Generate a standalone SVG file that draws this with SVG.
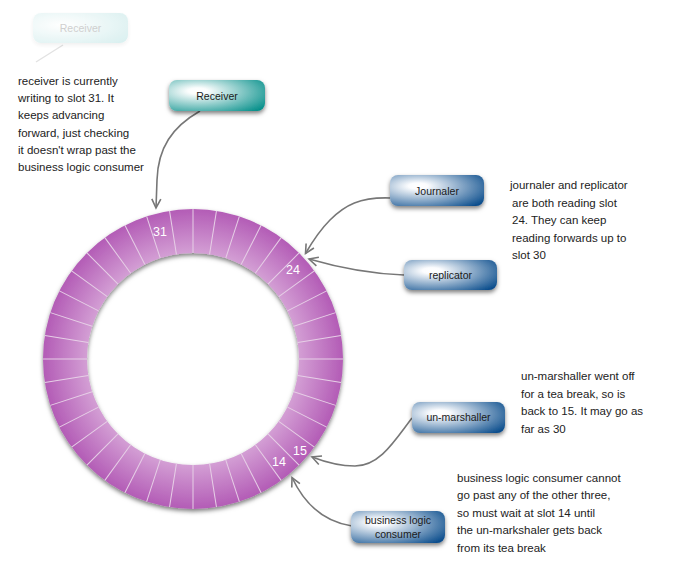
<svg xmlns="http://www.w3.org/2000/svg" xmlns:xlink="http://www.w3.org/1999/xlink" width="695" height="564" viewBox="0 0 695 564">
<defs>
<style>
.note{font-family:"Liberation Sans",Arial,sans-serif;font-size:11.5px;fill:#222}
.lbl{font-family:"Liberation Sans",Arial,sans-serif;font-size:10.5px;fill:#1a1a1a;text-anchor:middle}
.slot{font-family:"Liberation Sans",Arial,sans-serif;font-size:12.5px;fill:#fff;text-anchor:middle}
.conn{fill:none;stroke:#777;stroke-width:1.6}
.tick{stroke:#e6cfe6;stroke-width:1}
</style>
<radialGradient id="gTeal" cx="0.3" cy="0.4" fx="0.3" fy="0.35" r="0.85">
<stop offset="0" stop-color="#ffffff"/>
<stop offset="0.12" stop-color="#fbfdfd"/>
<stop offset="1" stop-color="#058f8a"/>
</radialGradient>
<radialGradient id="gBlue" cx="0.3" cy="0.4" fx="0.3" fy="0.35" r="0.85">
<stop offset="0" stop-color="#ffffff"/>
<stop offset="0.12" stop-color="#fbfcfe"/>
<stop offset="1" stop-color="#084b8b"/>
</radialGradient>
<radialGradient id="gFaded" cx="0.3" cy="0.4" r="0.85">
<stop offset="0" stop-color="#ffffff"/>
<stop offset="1" stop-color="#d2eded"/>
</radialGradient>
<radialGradient id="gRing" gradientUnits="userSpaceOnUse" cx="193" cy="359" r="150">
<stop offset="0.7" stop-color="#d4a0d5"/>
<stop offset="1" stop-color="#b35cb6"/>
</radialGradient>
<filter id="shadow" x="-20%" y="-20%" width="140%" height="150%">
<feDropShadow dx="0" dy="2.5" stdDeviation="2" flood-color="#000" flood-opacity="0.5"/>
</filter>
<filter id="shadowFaint" x="-20%" y="-20%" width="140%" height="150%">
<feDropShadow dx="0" dy="2" stdDeviation="2" flood-color="#000" flood-opacity="0.08"/>
</filter>
<marker id="arrow" markerUnits="userSpaceOnUse" markerWidth="14" markerHeight="14" viewBox="-10 -7 12 14" refX="0" refY="0" orient="auto">
<path d="M-9,-4.5 L0,0 L-9,4.5" fill="none" stroke="#777" stroke-width="1.6"/>
</marker>
<line id="tk" class="tick" x1="193" y1="209" x2="193" y2="253"/>
</defs>

<g id="ring">
<path d="M43,359 A150,150 0 1,0 343,359 A150,150 0 1,0 43,359 Z M87,359 A106,106 0 1,1 299,359 A106,106 0 1,1 87,359 Z" fill="url(#gRing)" fill-rule="evenodd" filter="url(#shadow)"/>
<g id="ticks">
<use xlink:href="#tk" transform="rotate(0 193 359)"/>
<use xlink:href="#tk" transform="rotate(9 193 359)"/>
<use xlink:href="#tk" transform="rotate(18 193 359)"/>
<use xlink:href="#tk" transform="rotate(27 193 359)"/>
<use xlink:href="#tk" transform="rotate(36 193 359)"/>
<use xlink:href="#tk" transform="rotate(45 193 359)"/>
<use xlink:href="#tk" transform="rotate(54 193 359)"/>
<use xlink:href="#tk" transform="rotate(63 193 359)"/>
<use xlink:href="#tk" transform="rotate(72 193 359)"/>
<use xlink:href="#tk" transform="rotate(81 193 359)"/>
<use xlink:href="#tk" transform="rotate(90 193 359)"/>
<use xlink:href="#tk" transform="rotate(99 193 359)"/>
<use xlink:href="#tk" transform="rotate(108 193 359)"/>
<use xlink:href="#tk" transform="rotate(117 193 359)"/>
<use xlink:href="#tk" transform="rotate(126 193 359)"/>
<use xlink:href="#tk" transform="rotate(135 193 359)"/>
<use xlink:href="#tk" transform="rotate(144 193 359)"/>
<use xlink:href="#tk" transform="rotate(153 193 359)"/>
<use xlink:href="#tk" transform="rotate(162 193 359)"/>
<use xlink:href="#tk" transform="rotate(171 193 359)"/>
<use xlink:href="#tk" transform="rotate(180 193 359)"/>
<use xlink:href="#tk" transform="rotate(189 193 359)"/>
<use xlink:href="#tk" transform="rotate(198 193 359)"/>
<use xlink:href="#tk" transform="rotate(207 193 359)"/>
<use xlink:href="#tk" transform="rotate(216 193 359)"/>
<use xlink:href="#tk" transform="rotate(225 193 359)"/>
<use xlink:href="#tk" transform="rotate(234 193 359)"/>
<use xlink:href="#tk" transform="rotate(243 193 359)"/>
<use xlink:href="#tk" transform="rotate(252 193 359)"/>
<use xlink:href="#tk" transform="rotate(261 193 359)"/>
<use xlink:href="#tk" transform="rotate(270 193 359)"/>
<use xlink:href="#tk" transform="rotate(279 193 359)"/>
<use xlink:href="#tk" transform="rotate(288 193 359)"/>
<use xlink:href="#tk" transform="rotate(297 193 359)"/>
<use xlink:href="#tk" transform="rotate(306 193 359)"/>
<use xlink:href="#tk" transform="rotate(315 193 359)"/>
<use xlink:href="#tk" transform="rotate(324 193 359)"/>
<use xlink:href="#tk" transform="rotate(333 193 359)"/>
<use xlink:href="#tk" transform="rotate(342 193 359)"/>
<use xlink:href="#tk" transform="rotate(351 193 359)"/>
</g>
<text class="slot" x="160" y="235.5">31</text>
<text class="slot" x="293" y="273.5">24</text>
<text class="slot" x="300" y="454.5">15</text>
<text class="slot" x="279" y="465.5">14</text>
</g>

<g id="connectors">
<path d="M63,45 L36,62" fill="none" stroke="#e2e2e2" stroke-width="1.4"/>
<path class="conn" d="M200,111 C172,127 158,148 157,180 L156,208" marker-end="url(#arrow)"/>
<path class="conn" d="M390,198 C360,197 345,205 330,220 C318,232 311,244 305.5,253.5" marker-end="url(#arrow)"/>
<path class="conn" d="M404,275 C375,274 340,268 309,259" marker-end="url(#arrow)"/>
<path class="conn" d="M412,418 C395,440 380,466 355,466 C340,466 325,462 312,457" marker-end="url(#arrow)"/>
<path class="conn" d="M352,526 C325,522 305,505 292,477.5" marker-end="url(#arrow)"/>
</g>

<g id="receiver-faded">
<rect x="33" y="13" width="95" height="30" rx="8" fill="url(#gFaded)" filter="url(#shadowFaint)" opacity="0.8"/>
<text class="lbl" x="80.5" y="32" style="fill:#cfcfcf">Receiver</text>
</g>

<g id="receiver">
<rect x="169" y="80" width="96" height="31" rx="8" fill="url(#gTeal)" filter="url(#shadow)"/>
<text class="lbl" x="217" y="99.5">Receiver</text>
</g>

<g id="journaler">
<rect x="390" y="175" width="94" height="31" rx="8" fill="url(#gBlue)" filter="url(#shadow)"/>
<text class="lbl" x="437" y="194.5">Journaler</text>
</g>

<g id="replicator">
<rect x="404" y="260" width="93" height="30" rx="8" fill="url(#gBlue)" filter="url(#shadow)"/>
<text class="lbl" x="450.5" y="279">replicator</text>
</g>

<g id="un-marshaller">
<rect x="412" y="402" width="93" height="31" rx="8" fill="url(#gBlue)" filter="url(#shadow)"/>
<text class="lbl" x="458.5" y="421">un-marshaller</text>
</g>

<g id="business-logic-consumer">
<rect x="351" y="511" width="94" height="32" rx="8" fill="url(#gBlue)" filter="url(#shadow)"/>
<text class="lbl" x="398" y="524">business logic</text>
<text class="lbl" x="398" y="537.5">consumer</text>
</g>

<g id="notes">
<text class="note" x="18" y="85">receiver is currently</text>
<text class="note" x="18" y="102">writing to slot 31. It</text>
<text class="note" x="18" y="119">keeps advancing</text>
<text class="note" x="18" y="136.5">forward, just checking</text>
<text class="note" x="18" y="153.5">it doesn't wrap past the</text>
<text class="note" x="18" y="170.5">business logic consumer</text>

<text class="note" x="510" y="189">journaler and replicator</text>
<text class="note" x="512" y="206.5">are both reading slot</text>
<text class="note" x="512" y="224">24. They can keep</text>
<text class="note" x="512" y="241.5">reading forwards up to</text>
<text class="note" x="512" y="259">slot 30</text>

<text class="note" x="521" y="380">un-marshaller went off</text>
<text class="note" x="521" y="397.5">for a tea break, so is</text>
<text class="note" x="521" y="415">back to 15. It may go as</text>
<text class="note" x="521" y="432.5">far as 30</text>

<text class="note" x="457" y="481.5">business logic consumer cannot</text>
<text class="note" x="457" y="499">go past any of the other three,</text>
<text class="note" x="457" y="516.5">so must wait at slot 14 until</text>
<text class="note" x="457" y="534">the un-markshaler gets back</text>
<text class="note" x="457" y="551.5">from its tea break</text>
</g>
</svg>
